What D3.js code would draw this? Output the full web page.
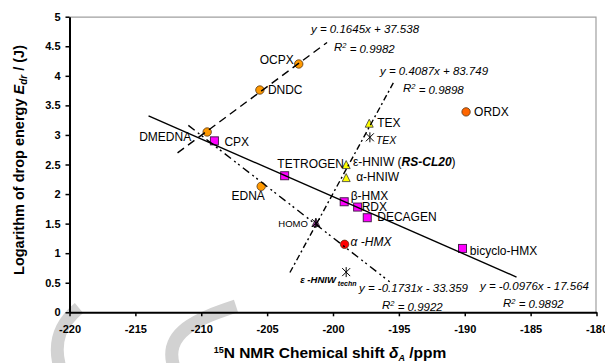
<!DOCTYPE html>
<html>
<head>
<meta charset="utf-8">
<script src="https://cdn.jsdelivr.net/npm/d3@7"></script>
<style>
  body { margin: 0; background: #fff; }
  text { font-family: Arial, "Liberation Sans", sans-serif; }
</style>
</head>
<body>
<div id="chart"></div>
<script>
// orange circles
var circleNames = ["OCPX", "DNDC", "DMEDNA", "EDNA", "ORDX", "α-HMX"];
var circleX = [-202.6, -205.55, -209.55, -205.45, -189.9, -199.12];
var circleY = [4.20, 3.76, 3.05, 2.13, 3.39, 1.15];
// magenta squares
var squareNames = ["CPX", "TETROGEN", "β-HMX", "RDX", "DECAGEN", "bicyclo-HMX"];
var squareX = [-209.0, -203.67, -199.15, -198.13, -197.4, -190.17];
var squareY = [2.90, 2.31, 1.87, 1.78, 1.60, 1.08];
// yellow triangles
var triangleNames = ["TEX", "ε-HNIW", "α-HNIW", "HOMO"];
var triangleX = [-197.25, -199.0, -199.0, -201.3];
var triangleY = [3.19, 2.49, 2.27, 1.51];
// stars
var starNames = ["TEX*", "ε-HNIW techn", "HOMO*"];
var starX = [-197.2, -199.0, -201.3];
var starY = [2.96, 0.68, 1.51];
// trendlines (as printed on the chart) and their x extents
var trendSlope = [0.1645, 0.4087, -0.0976, -0.1731];
var trendIntercept = [37.538, 83.749, -17.564, -33.359];
var trendFrom = [-211.8, -203.27, -214.0, -210.98];
var trendTo = [-200.45, -195.36, -186.07, -195.7];
var trendEq = ["y = 0.1645x + 37.538", "y = 0.4087x + 83.749", "y = -0.0976x - 17.564", "y = -0.1731x - 33.359"];
var trendR2 = ["0.9982", "0.9898", "0.9892", "0.9922"];
var xTicks = [-220, -215, -210, -205, -200, -195, -190, -185, -180];
var yTicks = [0, 0.5, 1, 1.5, 2, 2.5, 3, 3.5, 4, 4.5, 5];

var margin = {top: 16.7, right: 8.5, bottom: 50.7, left: 69.5},
    width = 605 - margin.left - margin.right,
    height = 363 - margin.top - margin.bottom;

var svgRoot = d3.select("#chart").append("svg")
    .attr("width", 605).attr("height", 363);

// watermark
var wm = svgRoot.append("g").attr("fill", "none").attr("stroke", "#d2d2d2").attr("stroke-width", 13);
wm.append("path").attr("d", "M79,308 C62,322 52,340 60,368");
wm.append("path").attr("d", "M236,306 C200,318 160,332 175,370");

var svg = svgRoot.append("g")
    .attr("transform", "translate(" + margin.left + "," + margin.top + ")");

var x = d3.scaleLinear().domain([-220, -180]).range([0, width]);
var y = d3.scaleLinear().domain([0, 5]).range([height, 0]);

// frame top/right
svg.append("path")
    .attr("d", "M0,0.5H" + (width - 0.5) + "V" + height)
    .attr("fill", "none").attr("stroke", "#a0a0a0").attr("stroke-width", 1.2);

// axes
var xAxis = svg.append("g")
    .attr("transform", "translate(0," + height + ")")
    .call(d3.axisBottom(x).tickValues(xTicks).tickSize(4).tickSizeOuter(0).tickPadding(9)
        .tickFormat(function(d) { return String(d); }));
var yAxis = svg.append("g")
    .call(d3.axisLeft(y).tickValues(yTicks).tickSize(4).tickSizeOuter(0).tickPadding(5)
        .tickFormat(function(d) { return String(d); }));
[xAxis, yAxis].forEach(function(a) {
    a.attr("font-weight", "bold").attr("font-size", 11)
        .attr("font-family", "Arial, 'Liberation Sans', sans-serif");
    a.select(".domain").attr("stroke", "#000").attr("stroke-width", 2);
    a.selectAll(".tick line").attr("stroke", "#000").attr("stroke-width", 1.5);
    a.selectAll(".tick text").attr("fill", "#000").attr("font-weight", "bold")
        .style("font-size", "11px").style("font-weight", "bold");
});

// markers
function pts(names, xs, ys) {
    return names.map(function(n, i) { return {name: n, x: xs[i], y: ys[i]}; });
}
var circles = pts(circleNames, circleX, circleY);
var squares = pts(squareNames, squareX, squareY);
var triangles = pts(triangleNames, triangleX, triangleY);
var stars = pts(starNames, starX, starY);

var circleFill = {"ORDX": "#ff6600", "α-HMX": "#ff0000"};
svg.selectAll(".sq").data(squares).enter().append("rect")
    .attr("x", function(d) { return x(d.x) - 4; })
    .attr("y", function(d) { return y(d.y) - 4; })
    .attr("width", 8).attr("height", 8)
    .attr("fill", "#ff00ff").attr("stroke", "#4a2050").attr("stroke-width", 1);

svg.selectAll(".tri").data(triangles).enter().append("path")
    .attr("transform", function(d) { return "translate(" + x(d.x) + "," + y(d.y) + ")"; })
    .attr("d", "M0,-4.5L4,3.5L-4,3.5Z")
    .attr("fill", function(d) { return d.name == "HOMO" ? "#9b2fa0" : "#ffff00"; })
    .attr("stroke", "#333").attr("stroke-width", 0.8);

svg.selectAll(".ci").data(circles).enter().append("circle")
    .attr("cx", function(d) { return x(d.x); })
    .attr("cy", function(d) { return y(d.y); })
    .attr("r", 4.2)
    .attr("fill", function(d) { return circleFill[d.name] || "#ff9900"; })
    .attr("stroke", "#553311").attr("stroke-width", 0.8);

svg.selectAll(".st").data(stars).enter().append("path")
    .attr("transform", function(d) { return "translate(" + x(d.x) + "," + y(d.y) + ")"; })
    .attr("d", "M-4,-4L4,4M-4,4L4,-4M0,-5V5")
    .attr("stroke", "#000").attr("stroke-width", 1).attr("fill", "none");

// trendlines
var dashes = ["8,5", "6,3,2,3", null, "8,4,2,3,2,4"];
trendSlope.forEach(function(m, i) {
    var b = trendIntercept[i];
    var line = d3.line().x(function(d) { return x(d); }).y(function(d) { return y(m * d + b); });
    svg.append("path")
        .datum([trendFrom[i], trendTo[i]])
        .attr("d", line)
        .attr("fill", "none").attr("stroke", "#000").attr("stroke-width", 1.4)
        .attr("stroke-dasharray", dashes[i]);
});

// equations (positions in px of svg root)
var eqPos = [[311, 29, 334, 47], [380, 71, 403, 88], [480, 286, 503, 302.5], [359, 287.5, 382, 305]];
eqPos.forEach(function(p, i) {
    svgRoot.append("text").attr("x", p[0]).attr("y", p[1]).attr("dy", "0.35em")
        .style("font-size", "11.5px").style("font-style", "italic").text(trendEq[i]);
    var r = svgRoot.append("text").attr("x", p[2]).attr("y", p[3]).attr("dy", "0.35em")
        .style("font-size", "11.5px").style("font-style", "italic");
    r.append("tspan").text("R");
    r.append("tspan").attr("dy", "-0.4em").style("font-size", "7.5px").text("2");
    r.append("tspan").attr("dy", "0.4em").text(" = " + trendR2[i]);
});

// point labels: [dx, dy, anchor]
var labelOffsets = {
    "OCPX": [-5, -4, "end"], "DNDC": [8, 0, "start"], "DMEDNA": [-16, 5, "end"],
    "EDNA": [-13, 9, "middle"], "ORDX": [8, -0.5, "start"],
    "CPX": [10, 0.6, "start"], "TETROGEN": [26, -12, "middle"], "β-HMX": [6.5, -6, "start"],
    "RDX": [4, -0.5, "start"], "DECAGEN": [10, -0.5, "start"], "bicyclo-HMX": [7.3, 2, "start"],
    "TEX": [8, -0.5, "start"], "α-HNIW": [10, -1.3, "start"]
};
function addLabel(d) {
    var o = labelOffsets[d.name];
    if (!o) return;
    svg.append("text")
        .attr("x", x(d.x) + o[0]).attr("y", y(d.y) + o[1]).attr("dy", "0.35em")
        .attr("text-anchor", o[2]).style("font-size", "12px").text(d.name);
}
circles.concat(squares, triangles).forEach(addLabel);

// special labels
var eps = triangles[1];
var t1 = svg.append("text").attr("x", x(eps.x) + 6.7).attr("y", y(eps.y) - 3).attr("dy", "0.35em")
    .style("font-size", "12px");
t1.append("tspan").text("ε-HNIW (");
t1.append("tspan").style("font-weight", "bold").style("font-style", "italic").text("RS-CL20");
t1.append("tspan").text(")");

var texStar = stars[0];
svg.append("text").attr("x", x(texStar.x) + 6).attr("y", y(texStar.y) + 2.7).attr("dy", "0.35em")
    .style("font-size", "10.5px").style("font-style", "italic").text("TEX");

var homo = triangles[3];
svg.append("text").attr("x", x(homo.x) - 8).attr("y", y(homo.y) + 0.7).attr("dy", "0.35em")
    .attr("text-anchor", "end").style("font-size", "9.5px").text("HOMO");

var ahmx = circles[5];
svg.append("text").attr("x", x(ahmx.x) + 6).attr("y", y(ahmx.y) - 2).attr("dy", "0.35em")
    .style("font-size", "12px").style("font-style", "italic").text("α -HMX");

var techn = stars[1];
var t2 = svg.append("text").attr("x", x(techn.x) - 46).attr("y", y(techn.y) + 7.7).attr("dy", "0.35em")
    .style("font-size", "9.5px").style("font-weight", "bold").style("font-style", "italic");
t2.append("tspan").text("ε -HNIW");
t2.append("tspan").attr("dy", "3").style("font-size", "7px").text(" techn");

// axis titles
var yt = svgRoot.append("text")
    .attr("transform", "translate(24," + 160 + ") rotate(-90)")
    .attr("text-anchor", "middle")
    .style("font-size", "14.5px").style("font-weight", "bold");
yt.append("tspan").text("Logarithm of drop energy  ");
yt.append("tspan").style("font-style", "italic").text("E");
yt.append("tspan").attr("dy", "3").style("font-style", "italic").style("font-size", "10px").text("dr");
yt.append("tspan").attr("dy", "-3").text(" / (J)");

var xt = svgRoot.append("text")
    .attr("x", 330).attr("y", 358)
    .attr("text-anchor", "middle")
    .style("font-size", "15.5px").style("font-weight", "bold");
xt.append("tspan").attr("dy", "-5").style("font-size", "9px").text("15");
xt.append("tspan").attr("dy", "5").text("N NMR Chemical shift  ");
xt.append("tspan").style("font-style", "italic").text("δ");
xt.append("tspan").attr("dy", "3").style("font-size", "9px").style("font-style", "italic").text("A");
xt.append("tspan").attr("dy", "-3").text(" /ppm");
</script>
</body>
</html>
